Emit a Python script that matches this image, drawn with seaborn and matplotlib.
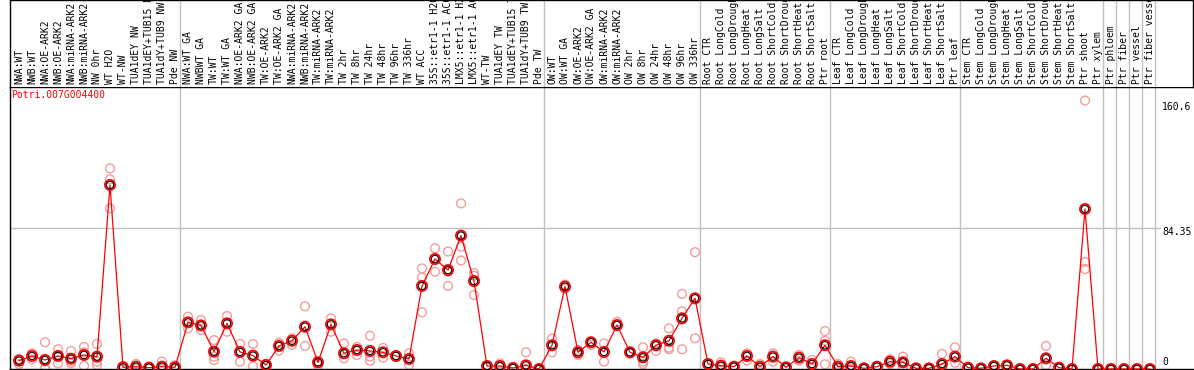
import matplotlib
matplotlib.use("Agg")
import matplotlib.pyplot as plt
import seaborn as sns
import pandas as pd

# gene shown in the top-left corner
gene = "Potri.007G004400"

# sample names, left to right
samples = [
    "NWA:WT", "NWB:WT", "NWA:OE-ARK2", "NWB:OE-ARK2", "NWA:miRNA-ARK2", "NWB:miRNA-ARK2",
    "NW 0hr", "WT H2O", "WT-NW", "TUA1dEY NW", "TUA1dEY+TUB15 NW", "TUA1dY+TUB9 NW", "Pde NW",
    "NWA:WT GA", "NWBWT GA", "TW:WT", "TW:WT GA", "NWA:OE-ARK2 GA", "NWB:OE-ARK2 GA",
    "TW:OE-ARK2", "TW:OE-ARK2 GA", "NWA:miRNA-ARK2", "NWB:miRNA-ARK2", "TW:miRNA-ARK2",
    "TW:miRNA-ARK2", "TW 2hr", "TW 8hr", "TW 24hr", "TW 48hr", "TW 96hr", "TW 336hr", "WT ACC",
    "35S::etr1-1 H2O", "35S::etr1-1 ACC", "LMX5::etr1-1 H2O", "LMX5::etr1-1 ACC", "WT-TW",
    "TUA1dEY TW", "TUA1dEY+TUB15 TW", "TUA1dY+TUB9 TW", "Pde TW",
    "OW:WT", "OW:WT GA", "OW:OE-ARK2", "OW:OE-ARK2 GA", "OW:miRNA-ARK2", "OW:miRNA-ARK2",
    "OW 2hr", "OW 8hr", "OW 24hr", "OW 48hr", "OW 96hr", "OW 336hr",
    "Root CTR", "Root LongCold", "Root LongDrought", "Root LongHeat", "Root LongSalt",
    "Root ShortCold", "Root ShortDrought", "Root ShortHeat", "Root ShortSalt", "Ptr root",
    "Leaf CTR", "Leaf LongCold", "Leaf LongDrought", "Leaf LongHeat", "Leaf LongSalt",
    "Leaf ShortCold", "Leaf ShortDrought", "Leaf ShortHeat", "Leaf ShortSalt", "Ptr leaf",
    "Stem CTR", "Stem LongCold", "Stem LongDrought", "Stem LongHeat", "Stem LongSalt",
    "Stem ShortCold", "Stem ShortDrought", "Stem ShortHeat", "Stem ShortSalt", "Ptr shoot",
    "Ptr xylem", "Ptr phloem", "Ptr fiber", "Ptr vessel", "Ptr fiber vessel",
]

# mean expression per sample
means = [
    5.0, 7.8, 5.4, 7.8, 6.2, 8.4, 7.4, 110.1, 1.0, 1.4, 0.8, 1.4, 1.0,
    27.9, 26.1, 10.4, 27.3, 10.2, 8.0, 2.4, 13.8, 16.9, 25.3, 4.0, 26.7, 9.4, 11.4,
    10.8, 10.0, 7.8, 6.0, 49.7, 65.8, 59.2, 79.8, 52.6, 1.8, 1.8, 0.6, 2.2, 0.0,
    14.2, 49.3, 10.0, 16.0, 10.2, 26.3, 10.0, 7.0, 14.2, 16.9, 30.3, 42.3,
    3.0, 2.0, 1.4, 7.8, 1.4, 7.4, 1.0, 6.8, 3.0, 14.2,
    1.4, 1.8, 0.4, 1.4, 4.4, 4.0, 0.4, 0.4, 3.0, 7.4,
    0.8, 0.4, 1.8, 2.2, 0.0, 0.0, 6.4, 0.8, 0.0, 95.7, 0.0,
    0.0, 0.0, 0.0, 0.0,
]

# individual replicates per sample
reps = [
    [3.0, 6.0], [9.4, 5.8], [16.0, 0.4, 0.0], [11.8, 3.4, 8.0], [10.8, 3.4, 4.5],
    [13.2, 1.8, 10.0], [15.0, 4.4, 2.4], [120.0, 113.5, 96.1], [1.8, 0.0], [3.0, 0.0],
    [1.4, 0.5], [4.4, 0.2], [2.2, 0.0],
    [31.3, 24.3], [29.3, 23.3], [17.3, 7.4, 5.4], [31.7, 22.3], [15.0, 4.4], [15.0, 1.8],
    [3.0, 1.8], [15.7, 11.0], [18.4, 14.4], [37.5, 13.8], [2.2, 4.5], [30.3, 22.3],
    [15.3, 6.4], [13.2, 8.4], [19.9, 7.4, 5.0], [12.6, 6.8], [7.8], [9.4, 2.4],
    [60.2, 54.8, 33.9], [72.2, 58.2], [70.3, 49.7, 58.2], [99.1, 73.2, 64.9],
    [57.4, 44.3, 55.8], [1.8, 1.0], [3.4, 1.0], [0.6], [10.0, 0.0], [0.0],
    [18.2, 10.0], [50.5, 48.0], [11.4, 8.4], [14.4, 16.0], [15.3, 4.4], [28.3, 26.0],
    [9.4, 10.0], [13.0, 4.4, 3.0], [15.3, 10.8], [24.3, 12.8, 11.8], [44.9, 34.5, 11.8],
    [69.9, 18.4],
    [3.0], [4.0, 1.0], [1.4], [9.4, 5.0], [3.0, 0.5], [9.4, 4.4], [1.0], [8.4, 5.0],
    [5.4, 1.0], [22.7, 16.9, 2.8],
    [3.0, 0.0], [4.4, 0.5], [0.4], [1.4], [5.8, 3.0], [7.4, 1.4], [0.4], [0.4],
    [9.0, 0.5], [13.0, 3.8],
    [0.8], [0.4], [1.8], [2.2], [0.0], [0.0], [13.8, 2.4], [0.8], [0.0],
    [160.6, 64.1, 59.8], [0.0],
    [0.0], [0.0], [0.0], [0.0],
]

# last sample index of each group (grey separators)
group_ends = [12, 40, 52, 62, 72, 83, 84, 85, 86, 87]

y_max = 168.7
y_marks = ["160.6", "84.35", "0"]

df_mean = pd.DataFrame({"idx": range(len(means)), "value": means})
df_rep = pd.DataFrame(
    [(i, v) for i, vals in enumerate(reps) for v in vals], columns=["idx", "value"]
)

sns.set_style("white")
plt.rcParams["font.family"] = ["DejaVu Sans Mono"]

W, H = 1194, 370
fig = plt.figure(figsize=(W / 100, H / 100), dpi=100)
ax = fig.add_axes([10 / W, 1 / H, 1183 / W, 282 / H])
lab = fig.add_axes([10 / W, 283 / H, 1183 / W, 87 / H], sharex=ax)

grey = "#c0c0c0"
for g in group_ends:
    ax.axvline(g + 0.4, color=grey, lw=1, zorder=0)
    lab.axvline(g + 0.4, color=grey, lw=1, zorder=0)
ax.axhline(y_max / 2, xmax=0.972, color=grey, lw=1, zorder=0)

# replicates
sns.scatterplot(data=df_rep, x="idx", y="value", ax=ax, marker="o", s=40,
                facecolor="none", edgecolor="#f29e9e", linewidth=1,
                clip_on=False, zorder=2)
# mean line
sns.lineplot(data=df_mean, x="idx", y="value", ax=ax, color="red", lw=0.9,
             clip_on=False, zorder=3)
# mean markers: red ring with a black ring inside
sns.scatterplot(data=df_mean, x="idx", y="value", ax=ax, marker="o", s=55,
                facecolor="none", edgecolor="red", linewidth=1.2,
                clip_on=False, zorder=4)
sns.scatterplot(data=df_mean, x="idx", y="value", ax=ax, marker="o", s=28,
                facecolor="none", edgecolor="black", linewidth=0.8,
                clip_on=False, zorder=5)

ax.set_xlim(-9 / 13, (1193 - 19) / 13)
ax.set_ylim(0, y_max)
ax.set_xlabel("")
ax.set_ylabel("")
ax.set_xticks([])
ax.set_yticks([])
lab.set_yticks([])
lab.tick_params(labelbottom=False, bottom=False)

for side in ["left", "top", "bottom"]:
    ax.spines[side].set_color("black")
    ax.spines[side].set_linewidth(1)
ax.spines["right"].set_visible(False)
lab.spines["bottom"].set_visible(False)
for side in ["left", "top", "right"]:
    lab.spines[side].set_color("black")
    lab.spines[side].set_linewidth(1)

# rotated sample labels
for i, s in enumerate(samples):
    lab.text(i, 3 / 87, s, rotation=90, ha="center", va="bottom", fontsize=7,
             transform=lab.get_xaxis_transform(), color="black")

# value labels on the right
offsets = [-6, -4, 7]
for txt, dy in zip(y_marks, offsets):
    ax.annotate(txt, xy=(0.974, float(txt)), xycoords=ax.get_yaxis_transform(),
                xytext=(0, dy), textcoords="offset pixels", va="center", ha="left",
                fontsize=7, color="black", annotation_clip=False)

ax.annotate(gene, xy=(0, 1), xycoords="axes fraction", xytext=(1, -3),
            textcoords="offset pixels", va="top", ha="left", fontsize=7, color="red")

fig.savefig("out.png", dpi=100)
